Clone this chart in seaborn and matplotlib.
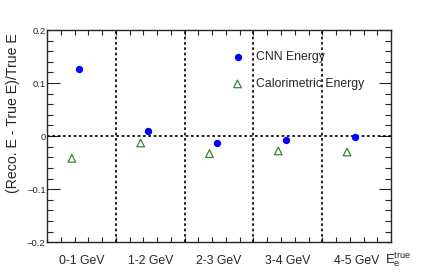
import numpy as np
import pandas as pd
import matplotlib
matplotlib.use("Agg")
import matplotlib.pyplot as plt
import seaborn as sns
from matplotlib.ticker import MultipleLocator

bins = ['0-1 GeV', '1-2 GeV', '2-3 GeV', '3-4 GeV', '4-5 GeV']
cnn_res = [0.126, 0.009, -0.013, -0.0075, -0.001]
calo_res = [-0.042, -0.013, -0.033, -0.028, -0.030]

sns.set_style("ticks")
plt.rcParams['font.family'] = ['Liberation Sans', 'DejaVu Sans']

idx = np.arange(len(bins))
df = pd.DataFrame({
    "x": np.concatenate([idx + 0.47, idx + 0.36]),
    "res": cnn_res + calo_res,
    "kind": ["CNN Energy"] * len(bins) + ["Calorimetric Energy"] * len(bins),
})

fig = plt.figure(figsize=(4.36, 2.73), dpi=100)
ax = fig.add_axes([0.108, 0.113, 0.789, 0.777])

sns.scatterplot(data=df[df.kind == "CNN Energy"], x="x", y="res", ax=ax,
                marker="o", s=28, color="blue", edgecolor="blue", linewidth=0,
                label="CNN Energy", zorder=4)
sns.scatterplot(data=df[df.kind == "Calorimetric Energy"], x="x", y="res", ax=ax,
                marker="^", s=30, facecolor="none", edgecolor="#2e8b2e", linewidth=0.9,
                label="Calorimetric Energy", zorder=4)

ax.set_xlim(0, 5)
ax.set_ylim(-0.2, 0.2)
for v in range(1, 5):
    ax.axvline(v, color="black", ls=(0, (1.6, 1.6)), lw=1.2, zorder=2)
ax.axhline(0, color="black", ls=(0, (1.6, 1.6)), lw=1.2, zorder=2)

ax.set_xticks(idx + 0.5, bins, minor=False)
ax.set_xticks(np.arange(0, 5.01, 0.2), minor=True)
ax.yaxis.set_minor_locator(MultipleLocator(0.02))
ax.set_yticks([-0.2, -0.1, 0, 0.1, 0.2], ["\u22120.2", "\u22120.1", "0", "0.1", "0.2"])

ax.tick_params(axis="x", which="major", length=0, labelsize=8.8, pad=9)
ax.tick_params(axis="x", which="minor", direction="in", length=3.5, top=True, bottom=True, width=0.8)
ax.tick_params(axis="y", which="major", direction="in", length=9, left=True, right=True,
               labelsize=6.8, pad=1, width=0.8)
ax.tick_params(axis="y", which="minor", direction="in", length=4.5, left=True, right=True, width=0.8)
for s in ax.spines.values():
    s.set_linewidth(1.0)

ax.set_xlabel("")
ax.set_ylabel("(Reco. E - True E)/True E", fontsize=10.2)
ax.yaxis.set_label_coords(-0.078, 0.985, transform=ax.transAxes)
ax.yaxis.label.set_ha("right")
fig.text(0.882, 0.035, r"$\mathregular{E_e^{true}}$", fontsize=9.5, ha="left")

leg = ax.legend(loc="upper left", bbox_to_anchor=(0.518, 0.925), frameon=False,
                fontsize=8.8, handletextpad=0.9, labelspacing=1.25, borderaxespad=0,
                handlelength=1.2)

fig.savefig("out.png", dpi=100)
